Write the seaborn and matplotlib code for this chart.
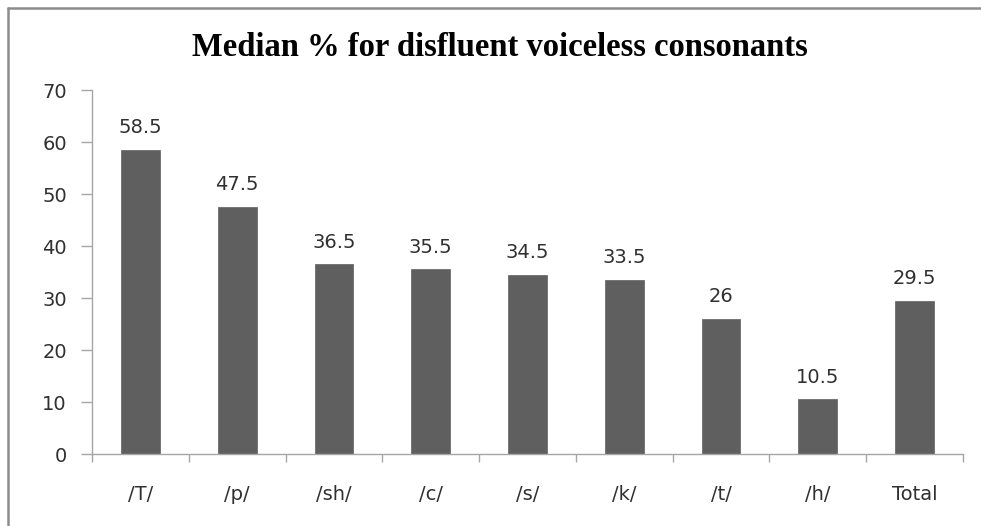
import matplotlib
matplotlib.use("Agg")
import matplotlib.pyplot as plt
import seaborn as sns
import pandas as pd
from matplotlib.lines import Line2D

categories = ["/T/", "/p/", "/sh/", "/c/", "/s/", "/k/", "/t/", "/h/", "Total"]
values = [58.5, 47.5, 36.5, 35.5, 34.5, 33.5, 26, 10.5, 29.5]
value_labels = ["58.5", "47.5", "36.5", "35.5", "34.5", "33.5", "26", "10.5", "29.5"]
y_ticks = [0, 10, 20, 30, 40, 50, 60, 70]
title = "Median % for disfluent voiceless consonants"

df = pd.DataFrame({"cat": categories, "val": values})

sns.set_theme(style="white")
plt.rcParams['font.family'] = ['DejaVu Sans']

W, H = 981, 526
fig = plt.figure(figsize=(W / 100, H / 100), dpi=100)
fig.patch.set_facecolor("white")

# outer border (top and left edges only visible)
fig.add_artist(Line2D([8 / W, 1.0], [1 - 8 / H, 1 - 8 / H], transform=fig.transFigure,
                      color="#8c8c8c", linewidth=1.8))
fig.add_artist(Line2D([8 / W, 8 / W], [0.0, 1 - 8 / H], transform=fig.transFigure,
                      color="#8c8c8c", linewidth=1.8))

ax = fig.add_axes([92 / W, 1 - 454 / H, (963 - 92) / W, (454 - 90) / H])
sns.barplot(data=df, x="cat", y="val", ax=ax, color="#5f5f5f",
            saturation=1, width=0.4, edgecolor="#5f5f5f", linewidth=0.5)

ax.set_ylim(0, 70)
ax.set_xlim(-0.5, len(categories) - 0.5)
ax.set_yticks(y_ticks)
ax.set_xlabel("")
ax.set_ylabel("")

for s in ["top", "right"]:
    ax.spines[s].set_visible(False)
for s in ["left", "bottom"]:
    ax.spines[s].set_color("#a6a6a6")
    ax.spines[s].set_linewidth(1)

ax.tick_params(axis="y", which="both", left=True, length=8, width=1,
               color="#a6a6a6", labelsize=14, labelcolor="#303030", pad=10)
ax.set_xticks([i + 0.5 for i in range(-1, len(categories))], minor=True)
ax.set_xticks(range(len(categories)))
ax.set_xticklabels(categories)
ax.tick_params(axis="x", which="major", bottom=False, labelsize=14,
               labelcolor="#303030", pad=16)
ax.tick_params(axis="x", which="minor", bottom=True, length=6, width=1,
               color="#a6a6a6")

for i, (v, lab) in enumerate(zip(values, value_labels)):
    ax.annotate(lab, (i, v), xytext=(0, 9), textcoords="offset points",
                ha="center", va="bottom", fontsize=14, color="#303030")

fig.text(500 / W, 1 - 47 / H, title, ha="center", va="center",
         fontsize=23.5, fontweight="bold", family=["Liberation Serif"],
         color="black")

fig.savefig("out.png", dpi=100, facecolor="white")
